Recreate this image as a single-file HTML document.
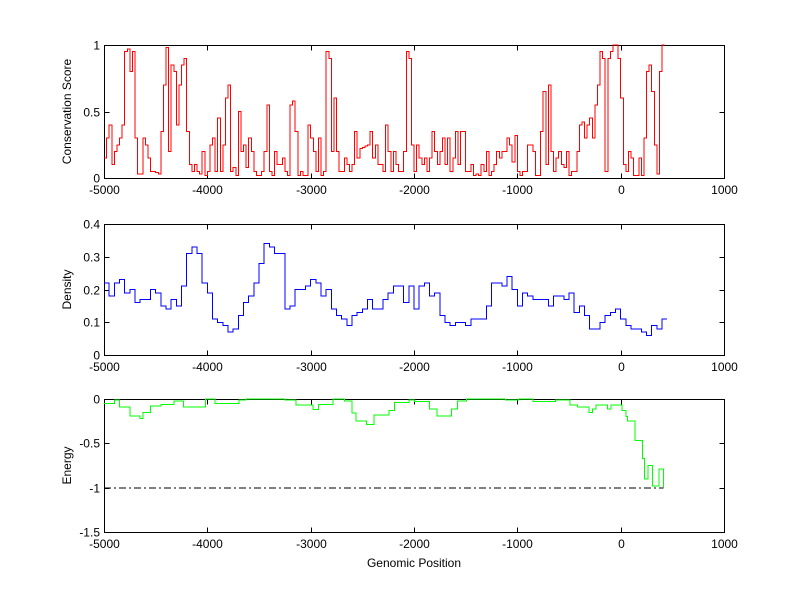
<!DOCTYPE html>
<html><head><meta charset="utf-8"><style>
body{margin:0;background:#fff;}
svg{display:block;font-family:"Liberation Sans",sans-serif;}
svg line, svg path, svg rect{shape-rendering:crispEdges;}
</style></head><body>
<svg id="fig" width="800" height="599" viewBox="0 0 800 599"></svg>
<script>
const xTicks=[-5000,-4000,-3000,-2000,-1000,0,1000];
const consYTicks=[0,0.5,1];
const consYLabels=["0","0.5","1"];
const densYTicks=[0,0.1,0.2,0.3,0.4];
const densYLabels=["0","0.1","0.2","0.3","0.4"];
const enYTicks=[-1.5,-1,-0.5,0];
const enYLabels=["-1.5","-1","-0.5","0"];
const consStart=-5000, consStep=25;
const consValues=[.15,.3,.4,.1,.2,.25,.3,.4,.95,.97,
.8,.95,.3,.03,.03,.3,.25,.15,.05,.05,
.04,.03,.35,.7,.98,.2,.85,.8,.4,.7,
.85,.9,.35,.1,.05,.1,.05,.03,.2,.02,
.05,.25,.3,.05,.45,.05,.25,.6,.7,.05,
.08,.02,.5,.2,.25,.08,.3,.2,.05,.02,
.02,.05,.2,.55,.05,.02,.2,.1,.1,.15,
.05,.02,.55,.58,.35,.02,.05,.02,.02,.4,
.3,.2,.05,.3,.02,.05,.95,.9,.2,.6,
.2,.05,.05,.15,.1,.05,.1,.35,.15,.22,
.23,.24,.25,.35,.15,.25,.1,.1,.05,.4,
.2,.05,.2,.1,.05,.05,.2,.95,.9,.25,
.05,.25,.15,.1,.15,.05,.15,.35,.2,.1,
.2,.3,.1,.3,.05,.15,.35,.1,.35,.35,
.05,.05,.1,.02,.03,.02,.1,.05,.2,.02,
.05,.1,.2,.15,.2,.2,.3,.25,.12,.32,
.05,.02,.05,.05,.25,.25,.2,.02,.02,.35,
.65,.1,.7,.2,.05,.15,.2,.1,.08,.2,
.02,.05,.05,.2,.4,.42,.3,.4,.45,.3,
.55,.7,.95,.9,.05,.9,.95,1,1,.9,
.6,.1,.05,.2,.15,.02,.02,.15,.02,.3,
.8,.85,.65,.25,.03,.8,1];
const densStart=-5000, densStep=50;
const densValues=[.22,.18,.22,.23,.19,.20,.16,.17,.17,.20,
.19,.15,.14,.17,.15,.21,.31,.33,.31,.22,
.19,.11,.10,.09,.07,.08,.12,.16,.18,.22,
.28,.34,.33,.31,.31,.14,.15,.20,.20,.21,
.23,.22,.18,.20,.14,.12,.11,.09,.12,.13,
.14,.17,.14,.14,.17,.19,.21,.21,.16,.21,
.14,.21,.22,.18,.19,.12,.10,.09,.10,.10,
.09,.11,.11,.11,.15,.22,.22,.21,.24,.20,
.15,.19,.18,.17,.17,.17,.15,.18,.18,.17,
.19,.13,.15,.12,.08,.08,.10,.12,.13,.14,
.11,.09,.08,.08,.07,.06,.09,.08,.11];
const energyX=[-5000,-4900,-4850,-4750,-4652,-4624,-4548,-4448,-4323,-4233,-4018,-3928,-3695,-3624,-3247,-3140,-2979,-2925,-2782,-2674,-2602,-2559,-2459,-2387,-2244,-2190,-2047,-1993,-1850,-1778,-1635,-1581,-1491,-1115,-989,-846,-631,-488,-416,-308,-273,-237,-129,-94,14,50,68,140,211,229,265,308,372,415];
const energyY=[-.05,-.01,-.09,-.19,-.22,-.15,-.08,-.06,-.02,-.09,0,-.05,-.01,0,-.01,-.07,-.12,-.06,0,-.02,-.16,-.25,-.29,-.18,-.13,-.04,-.01,-.03,-.11,-.19,-.11,-.02,0,-.01,0,-.03,-.01,-.07,-.09,-.15,-.11,-.07,-.11,-.07,-.13,-.20,-.25,-.47,-.67,-.9,-.75,-.98,-.79,-1];
const refLineY=[-1];
const refLineX=[-5000,415];

const NS="http://www.w3.org/2000/svg";
const svg=document.getElementById('fig');
const L=104,R=724;
function xs(v){return L+(v+5000)/6000*(R-L);}
function mk(tag,attrs,parent){const e=document.createElementNS(NS,tag);for(const k in attrs)e.setAttribute(k,attrs[k]);(parent||svg).appendChild(e);return e;}

function axes(name,top,bot,ymin,ymax,yt,yl,title){
  const g=mk('g',{});
  
  
  const ys=v=>bot-(v-ymin)/(ymax-ymin)*(bot-top);
  const box=mk('rect',{x:L+0.5,y:top+0.5,width:R-L,height:bot-top,fill:'#fff',stroke:'#000','stroke-width':1},g);
  
  
  xTicks.forEach(t=>{
    const x=Math.round(xs(t))+0.5;
    mk('line',{x1:x,y1:bot+0.5,x2:x,y2:bot-4.5,stroke:'#000'},g);
    mk('line',{x1:x,y1:top+0.5,x2:x,y2:top+5.5,stroke:'#000'},g);
    const tx=mk('text',{x:x,y:bot+16,'text-anchor':'middle','font-size':12},g);
    tx.textContent=String(t);
    
    
  });
  yt.forEach((t,i)=>{
    const y=Math.round(ys(t))+0.5;
    mk('line',{x1:L+0.5,y1:y,x2:L+5.5,y2:y,stroke:'#000'},g);
    mk('line',{x1:R+0.5,y1:y,x2:R-4.5,y2:y,stroke:'#000'},g);
    const tx=mk('text',{x:L-4,y:y+4,'text-anchor':'end','font-size':12},g);
    tx.textContent=yl[i];
    
    
  });
  const ty=mk('text',{x:0,y:0,'text-anchor':'middle','font-size':12,transform:`translate(71,${(top+bot)/2}) rotate(-90)`},g);
  ty.textContent=title;
  
  
  return ys;
}
function stairs(start,step,vals,ys){
  let d='';
  vals.forEach((v,i)=>{
    const x0=xs(start+i*step),x1=xs(start+(i+1)*step),y=ys(v);
    d+=(i===0?'M':'L')+x0.toFixed(1)+','+y.toFixed(1)+'L'+x1.toFixed(1)+','+y.toFixed(1);
  });
  return d;
}

const ys1=axes('conservation',45,178,0,1,consYTicks,consYLabels,'Conservation Score');
const p1=mk('path',{d:stairs(consStart,consStep,consValues,ys1),fill:'none',stroke:'#f00','stroke-width':1});



const ys2=axes('density',224,355,0,0.4,densYTicks,densYLabels,'Density');
const p2=mk('path',{d:stairs(densStart,densStep,densValues,ys2),fill:'none',stroke:'#00f','stroke-width':1});



const ys3=axes('energy',399,532,-1.5,0,enYTicks,enYLabels,'Energy');
const rl=mk('line',{x1:xs(refLineX[0]),y1:ys3(refLineY[0])+0.5,x2:xs(refLineX[1]),y2:ys3(refLineY[0])+0.5,stroke:'#000','stroke-dasharray':'7,3,2,3'});


let d3='';
energyY.forEach((v,i)=>{
  const x0=xs(energyX[i]),y=ys3(v);
  const x1=i<energyX.length-1?xs(energyX[i+1]):x0;
  d3+=(i===0?'M':'L')+x0.toFixed(1)+','+y.toFixed(1)+'L'+x1.toFixed(1)+','+y.toFixed(1);
});
const p3=mk('path',{d:d3,fill:'none',stroke:'#0f0','stroke-width':1});



const xt=mk('text',{x:414,y:567,'text-anchor':'middle','font-size':12});
xt.textContent='Genomic Position';


</script>
</body></html>
